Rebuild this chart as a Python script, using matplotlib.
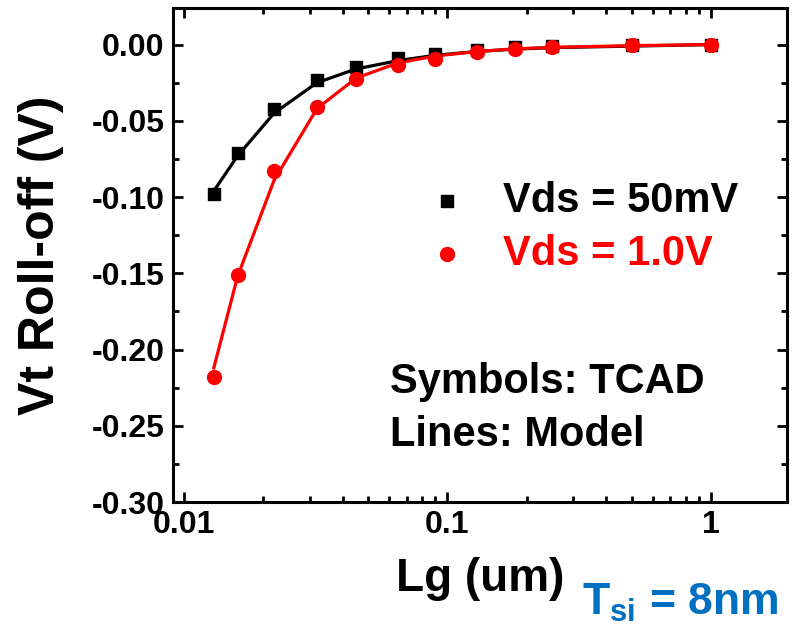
import matplotlib
matplotlib.use('Agg')
import matplotlib.pyplot as plt
from matplotlib.ticker import FixedLocator, MultipleLocator, FuncFormatter, LogLocator, NullFormatter

plt.rcParams['font.family'] = ['Liberation Sans', 'DejaVu Sans']
plt.rcParams['font.weight'] = 'bold'
plt.rcParams['axes.unicode_minus'] = False
plt.rcParams['mathtext.fontset'] = 'custom'
plt.rcParams['mathtext.bf'] = 'Liberation Sans:bold'
plt.rcParams['mathtext.rm'] = 'Liberation Sans:bold'

# gate length (um)
lg = [0.013, 0.016, 0.022, 0.032, 0.045, 0.065, 0.09, 0.13, 0.18, 0.25, 0.5, 1.0]

# TCAD symbols
tcad_50mv = [-0.098, -0.071, -0.042, -0.023, -0.0145, -0.009, -0.0065, -0.0038, -0.0018, -0.001, -0.0005, 0.0]
tcad_1v = [-0.218, -0.151, -0.083, -0.041, -0.0225, -0.0135, -0.0095, -0.005, -0.0028, -0.0015, -0.0005, 0.0]

# model lines
model_50mv = [-0.096, -0.073, -0.045, -0.025, -0.016, -0.0105, -0.007, -0.0045, -0.003, -0.002, -0.001, 0.0]
model_1v = [-0.212, -0.152, -0.089, -0.042, -0.022, -0.012, -0.0075, -0.0045, -0.0028, -0.0018, -0.0007, 0.0]

xticks = [0.01, 0.1, 1]
yticks = [0.00, -0.05, -0.10, -0.15, -0.20, -0.25, -0.30]

fig = plt.figure(figsize=(7.92, 6.29), dpi=100)
ax = fig.add_axes([0.2184, 0.2019, 0.7753, 0.7854])

ax.plot(lg, model_50mv, color='black', lw=2.3, zorder=2)
ax.plot(lg, model_1v, color='#ff0000', lw=2.3, zorder=2)
h1 = ax.scatter(lg, tcad_50mv, marker='s', s=80, color='black', zorder=3, label='Vds = 50mV')
h2 = ax.scatter(lg, tcad_1v, marker='o', s=100, color='#ff0000', zorder=3, label='Vds = 1.0V')

ax.set_xscale('log')
ax.set_xlim(0.0091, 1.94)
ax.set_ylim(-0.30, 0.024)

ax.xaxis.set_major_locator(FixedLocator(xticks))
ax.xaxis.set_major_formatter(FuncFormatter(lambda v, p: '%g' % v))
ax.xaxis.set_minor_locator(LogLocator(base=10, subs=range(2, 10)))
ax.xaxis.set_minor_formatter(NullFormatter())
ax.yaxis.set_major_locator(FixedLocator(yticks))
ax.yaxis.set_major_formatter(FuncFormatter(lambda v, p: '%.2f' % v))
ax.yaxis.set_minor_locator(MultipleLocator(0.025))

ax.tick_params(which='both', direction='in', top=True, right=True, width=2)
ax.tick_params(which='major', length=7, labelsize=23, pad=6)
ax.tick_params(which='minor', length=4)
for s in ax.spines.values():
    s.set_linewidth(2.2)

ax.set_xlabel('Lg (um)', fontsize=33, fontweight='bold', labelpad=12)
ax.set_ylabel('Vt Roll-off (V)', fontsize=36, fontweight='bold', labelpad=20)

leg = ax.legend(handles=[h1, h2], loc='center left', bbox_to_anchor=(0.412, 0.556),
                frameon=False, fontsize=30, handlelength=1.0, handletextpad=0.84,
                labelspacing=0.32, borderpad=0, borderaxespad=0, markerscale=1.0)
for t, c in zip(leg.get_texts(), ['black', '#ff0000']):
    t.set_color(c)

ax.text(0.353, 0.19, 'Symbols: TCAD\nLines: Model', transform=ax.transAxes,
        fontsize=30, fontweight='bold', ha='left', va='center', linespacing=1.42)

fig.text(0.735, 0.042, r'$\mathbf{T_{si}}$ = 8nm', color='#0070C0',
         fontsize=32, fontweight='bold', ha='left', va='center')

plt.savefig('out.png', dpi=100)
